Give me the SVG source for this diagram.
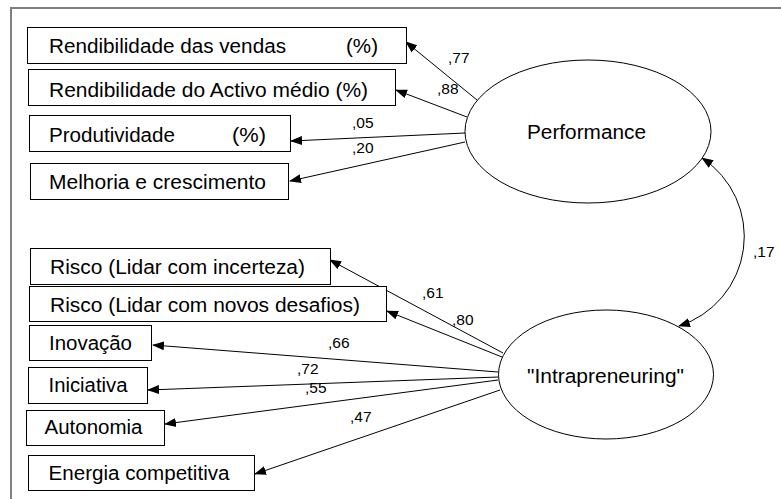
<svg xmlns="http://www.w3.org/2000/svg" width="781" height="499" viewBox="0 0 781 499">
<style>
.box{fill:#fff;stroke:#000;stroke-width:1}
.ell{fill:#fff;stroke:#000;stroke-width:1}
.t{font-family:"Liberation Sans",Arial,sans-serif;font-size:19.5px;fill:#000}
.n{font-family:"Liberation Sans",Arial,sans-serif;font-size:15.5px;fill:#000}
.c{fill:none;stroke:#000;stroke-width:1}
</style>
<defs>
<marker id="ah" markerUnits="userSpaceOnUse" markerWidth="12" markerHeight="10" refX="11" refY="4.5" orient="auto-start-reverse" viewBox="0 0 12 9">
<path d="M0,0 L12,4.5 L0,9 z" fill="#000"/>
</marker>
</defs>
<rect x="0" y="0" width="781" height="499" fill="#fff"/>
<path d="M11,499 L11,8 L781,8" fill="none" stroke="#808080" stroke-width="2"/>

<g id="connectors">
<path class="c" d="M477,100 L406,42" marker-end="url(#ah)"/>
<path class="c" d="M467,117 L396,90" marker-end="url(#ah)"/>
<path class="c" d="M465,133 L291,141" marker-end="url(#ah)"/>
<path class="c" d="M465,142 L290,181" marker-end="url(#ah)"/>
<path class="c" d="M702,158 A94,94 0 0 1 679,326" marker-start="url(#ah)" marker-end="url(#ah)"/>
<path class="c" d="M503,353 L330,260" marker-end="url(#ah)"/>
<path class="c" d="M502,357 L387,311" marker-end="url(#ah)"/>
<path class="c" d="M498,372 L153,345" marker-end="url(#ah)"/>
<path class="c" d="M498,377 L148,390" marker-end="url(#ah)"/>
<path class="c" d="M498,380 L165,424" marker-end="url(#ah)"/>
<path class="c" d="M500,390 L255,474" marker-end="url(#ah)"/>
<text class="n" x="448" y="63">,77</text>
<text class="n" x="437" y="94">,88</text>
<text class="n" x="352" y="128">,05</text>
<text class="n" x="352" y="153">,20</text>
<text class="n" x="753" y="257">,17</text>
<text class="n" x="422" y="298">,61</text>
<text class="n" x="452" y="325">,80</text>
<text class="n" x="328" y="348">,66</text>
<text class="n" x="297" y="374">,72</text>
<text class="n" x="305" y="393">,55</text>
<text class="n" x="350" y="422">,47</text>
</g>

<g id="n-rend-vendas">
<rect class="box" x="27.5" y="27.5" width="379" height="36"/>
<text class="t" x="49" y="52.5" textLength="237" lengthAdjust="spacingAndGlyphs">Rendibilidade das vendas</text>
<text class="t" x="346" y="52.5" textLength="32" lengthAdjust="spacingAndGlyphs">(%)</text>
</g>
<g id="n-rend-activo">
<rect class="box" x="28.5" y="69.5" width="367" height="36"/>
<text class="t" x="49" y="96.5" textLength="319" lengthAdjust="spacingAndGlyphs">Rendibilidade do Activo médio (%)</text>
</g>
<g id="n-produtividade">
<rect class="box" x="29.5" y="115.5" width="261" height="36"/>
<text class="t" x="49" y="141.5" textLength="126" lengthAdjust="spacingAndGlyphs">Produtividade</text>
<text class="t" x="232" y="141.5" textLength="34" lengthAdjust="spacingAndGlyphs">(%)</text>
</g>
<g id="n-melhoria">
<rect class="box" x="30.5" y="163.5" width="258" height="36"/>
<text class="t" x="49" y="188.5" textLength="217" lengthAdjust="spacingAndGlyphs">Melhoria e crescimento</text>
</g>

<g id="n-performance">
<ellipse class="ell" cx="588" cy="131.5" rx="123" ry="71.5"/>
<text class="t" x="527" y="139" textLength="119" lengthAdjust="spacingAndGlyphs">Performance</text>
</g>
<g id="n-intrapreneuring">
<ellipse class="ell" cx="606" cy="374.5" rx="107.5" ry="64.5"/>
<text class="t" x="527" y="383" textLength="157" lengthAdjust="spacingAndGlyphs">"Intrapreneuring"</text>
</g>

<g id="n-risco1">
<rect class="box" x="30.5" y="248.5" width="300" height="36"/>
<text class="t" x="50" y="273.5" textLength="255" lengthAdjust="spacingAndGlyphs">Risco (Lidar com incerteza)</text>
</g>
<g id="n-risco2">
<rect class="box" x="29.5" y="286.5" width="357" height="35"/>
<text class="t" x="50" y="311.5" textLength="310" lengthAdjust="spacingAndGlyphs">Risco (Lidar com novos desafios)</text>
</g>
<g id="n-inovacao">
<rect class="box" x="29.5" y="325.5" width="122" height="35"/>
<text class="t" x="49" y="350" textLength="83" lengthAdjust="spacingAndGlyphs">Inovação</text>
</g>
<g id="n-iniciativa">
<rect class="box" x="28.5" y="367.5" width="119" height="36"/>
<text class="t" x="48.5" y="391.5" textLength="79" lengthAdjust="spacingAndGlyphs">Iniciativa</text>
</g>
<g id="n-autonomia">
<rect class="box" x="26.5" y="410.5" width="138" height="35"/>
<text class="t" x="44.5" y="434" textLength="98" lengthAdjust="spacingAndGlyphs">Autonomia</text>
</g>
<g id="n-energia">
<rect class="box" x="28.5" y="455.5" width="226" height="35"/>
<text class="t" x="48.5" y="480" textLength="181" lengthAdjust="spacingAndGlyphs">Energia competitiva</text>
</g>
</svg>
